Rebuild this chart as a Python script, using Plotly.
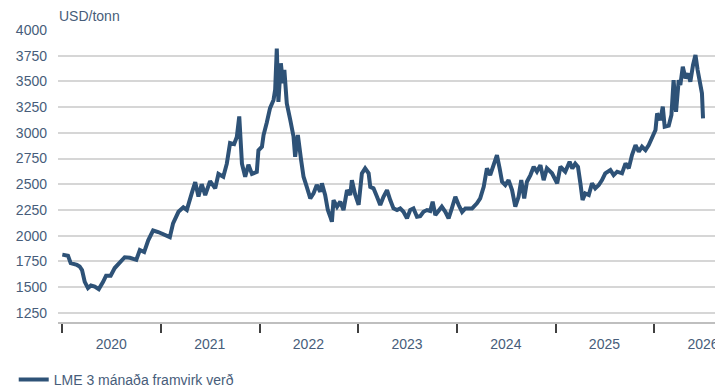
import plotly.graph_objects as go

# LME 3M aluminium
dates = [
    "2020-01-02", "2020-01-15", "2020-01-23", "2020-02-02", "2020-02-17", "2020-02-25",
    "2020-03-06", "2020-03-15", "2020-03-25", "2020-04-06", "2020-04-17", "2020-05-01",
    "2020-05-16", "2020-05-24", "2020-06-01", "2020-06-12", "2020-06-29", "2020-07-14",
    "2020-08-02", "2020-08-20", "2020-09-08", "2020-09-20", "2020-10-02", "2020-10-15",
    "2020-10-31", "2020-11-15", "2020-12-03", "2020-12-22",
    "2021-01-09", "2021-01-24", "2021-02-03", "2021-02-15", "2021-02-23", "2021-03-07",
    "2021-03-25", "2021-04-07", "2021-04-25", "2021-05-08", "2021-05-20", "2021-06-01",
    "2021-06-14", "2021-07-02", "2021-07-21", "2021-08-02", "2021-08-20", "2021-09-02",
    "2021-09-14", "2021-09-29", "2021-10-09", "2021-10-18", "2021-10-28", "2021-11-09",
    "2021-11-21", "2021-12-04", "2021-12-22", "2021-12-28",
    "2022-01-10", "2022-01-16", "2022-01-28", "2022-02-09", "2022-02-22", "2022-02-28",
    "2022-03-06", "2022-03-12", "2022-03-21", "2022-03-29", "2022-04-03", "2022-04-12",
    "2022-04-25", "2022-05-07", "2022-05-13", "2022-05-23", "2022-06-04", "2022-06-13",
    "2022-06-25", "2022-07-08", "2022-07-20", "2022-08-01", "2022-08-14", "2022-08-20",
    "2022-09-01", "2022-09-11", "2022-09-20", "2022-09-26", "2022-10-02", "2022-10-15",
    "2022-10-27", "2022-11-08", "2022-11-21", "2022-12-03", "2022-12-09", "2022-12-21",
    "2023-01-03", "2023-01-15", "2023-01-27", "2023-02-09", "2023-02-15", "2023-02-27",
    "2023-03-12", "2023-03-24", "2023-04-05", "2023-04-18", "2023-04-30", "2023-05-12",
    "2023-05-25", "2023-06-06", "2023-06-18", "2023-07-01", "2023-07-13", "2023-07-25",
    "2023-08-07", "2023-08-19", "2023-08-31", "2023-09-13", "2023-09-25", "2023-10-04",
    "2023-10-14", "2023-10-26", "2023-11-07", "2023-11-20", "2023-12-02", "2023-12-14",
    "2023-12-27",
    "2024-01-08", "2024-01-21", "2024-02-02", "2024-02-27", "2024-03-16", "2024-03-28",
    "2024-04-10", "2024-04-22", "2024-05-04", "2024-05-17", "2024-05-29", "2024-06-08",
    "2024-06-17", "2024-06-29", "2024-07-11", "2024-07-24", "2024-08-05", "2024-08-17",
    "2024-08-27", "2024-09-07", "2024-09-17", "2024-09-30", "2024-10-12", "2024-10-24",
    "2024-11-06", "2024-11-18", "2024-11-30", "2024-12-19",
    "2025-01-07", "2025-01-19", "2025-02-06", "2025-02-22", "2025-03-04", "2025-03-15",
    "2025-03-25", "2025-04-03", "2025-04-11", "2025-04-21", "2025-05-04", "2025-05-16",
    "2025-05-28", "2025-06-10", "2025-06-22", "2025-07-04", "2025-07-23", "2025-08-04",
    "2025-08-17", "2025-09-04", "2025-09-17", "2025-09-29", "2025-10-11", "2025-10-24",
    "2025-11-05", "2025-11-17", "2025-11-30", "2025-12-12", "2025-12-24",
    "2026-01-06", "2026-01-12", "2026-01-24", "2026-02-02", "2026-02-09", "2026-02-24",
    "2026-03-06", "2026-03-14", "2026-03-23", "2026-04-02", "2026-04-08", "2026-04-17",
    "2026-04-27", "2026-05-07", "2026-05-15", "2026-05-25", "2026-06-03", "2026-06-11",
    "2026-06-18", "2026-06-24", "2026-06-27", "2026-07-01",
]
price = [
    1815, 1810, 1805, 1733, 1725, 1715,
    1700, 1665, 1550, 1490, 1515, 1505,
    1480, 1510, 1550, 1610, 1610, 1685,
    1745, 1790, 1785, 1775, 1765, 1860,
    1840, 1955, 2050, 2035,
    2010, 1995, 1985, 2120, 2175, 2232,
    2275, 2250, 2411, 2520, 2380, 2500,
    2395, 2530, 2460, 2600, 2573, 2700,
    2900, 2890, 2960, 3160, 2700, 2573,
    2690, 2600, 2620, 2830,
    2865, 2978, 3100, 3240, 3320, 3420,
    3820, 3300, 3676, 3481, 3611, 3286,
    3124, 2962, 2767, 2978, 2735, 2573,
    2475, 2362, 2411, 2492, 2427, 2508,
    2395, 2249, 2184, 2135, 2346, 2281,
    2330, 2249, 2443, 2395, 2540, 2400,
    2300, 2606, 2654, 2606, 2475, 2460,
    2378, 2297, 2378, 2443, 2346, 2265,
    2249, 2265, 2232, 2168, 2249, 2265,
    2184, 2190, 2232, 2249, 2240, 2330,
    2200, 2235, 2281, 2232, 2168, 2265,
    2378,
    2300, 2230, 2265, 2265, 2314, 2362,
    2475, 2654, 2589, 2703, 2784, 2654,
    2524, 2492, 2540, 2443, 2281, 2378,
    2540, 2362, 2524, 2589, 2670, 2622,
    2686, 2540, 2654, 2606,
    2508, 2670, 2622, 2719, 2654, 2700,
    2670, 2508, 2346, 2411, 2395, 2508,
    2460, 2492, 2540, 2606, 2638, 2589,
    2622, 2606, 2703, 2654, 2784, 2881,
    2816, 2865, 2832, 2881, 2962,
    3027, 3189, 3124, 3254, 3059, 3070,
    3173, 3513, 3205, 3513, 3465, 3643,
    3530, 3578, 3497, 3660, 3757, 3611,
    3497, 3400, 3384, 3141,
]

years = [2020, 2021, 2022, 2023, 2024, 2025, 2026]
label_dates = [f"{y}-07-01" for y in years]
year_starts = [f"{y}-01-01" for y in years]
y_ticks = [1250, 1500, 1750, 2000, 2250, 2500, 2750, 3000, 3250, 3500, 3750, 4000]

line_color = "#2E5277"
text_color = "#475D7A"
font = "Liberation Sans, Arial, sans-serif"

fig = go.Figure()
fig.add_trace(go.Scatter(
    x=dates, y=price, mode="lines",
    name="LME 3 mánaða framvirk verð",
    line=dict(color=line_color, width=4),
))

# the page body has an 8px margin, so the figure is 8px smaller than the window
fig.update_layout(
    width=715, height=383,
    margin=dict(l=50, r=7, t=22, b=69, autoexpand=False),
    plot_bgcolor="white", paper_bgcolor="white",
    font=dict(family=font, size=14, color=text_color),
    showlegend=True,
    legend=dict(
        orientation="h", xref="container", yref="container",
        x=0.008, xanchor="left", y=0.029, yanchor="middle",
        font=dict(size=14, color=text_color), bgcolor="rgba(0,0,0,0)",
    ),
    annotations=[dict(
        text="USD/tonn", xref="paper", yref="paper", x=0, y=1.048,
        xanchor="left", yanchor="middle", showarrow=False, borderpad=0,
        font=dict(size=14, color=text_color),
    )],
)

fig.update_xaxes(
    type="date", automargin=False,
    range=["2019-12-17", "2026-08-18"],
    tickmode="array", tickvals=label_dates, ticktext=[str(y) for y in years],
    ticks="", ticklabelstandoff=8,
    showgrid=False, zeroline=False,
    showline=True, linecolor="#BFBFBF", linewidth=1.5,
    minor=dict(tickmode="array", tickvals=year_starts, ticks="outside",
               ticklen=9, tickwidth=2, tickcolor="#404040", showgrid=False),
)
fig.update_yaxes(
    automargin=False,
    range=[1160, 4000],
    tickmode="array", tickvals=y_ticks,
    ticks="", ticklabelstandoff=10,
    showgrid=True, gridcolor="#D6D6D6", gridwidth=1.5,
    zeroline=False, showline=False,
)

fig.write_html("out.html")
